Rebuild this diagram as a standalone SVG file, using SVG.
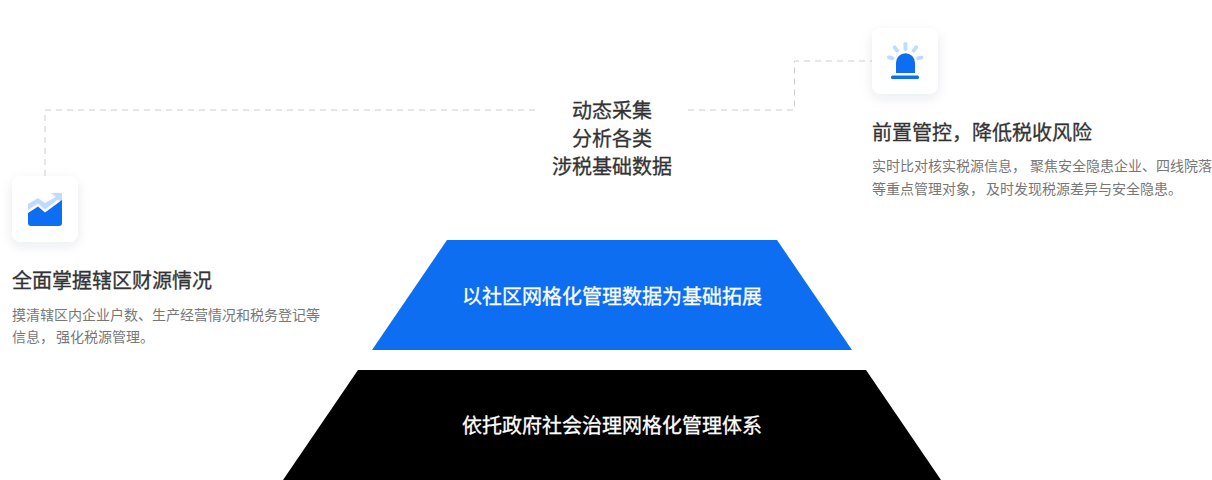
<svg xmlns="http://www.w3.org/2000/svg" width="1212" height="480" viewBox="0 0 1212 480">
<defs>
<filter id="sh" x="-50%" y="-50%" width="200%" height="200%"><feDropShadow dx="0" dy="4" stdDeviation="6" flood-color="#0f2a55" flood-opacity="0.09"/></filter>
</defs>
<style>
text{font-family:"Noto Sans CJK SC","Liberation Sans",sans-serif}
.conn{fill:none;stroke:#ccced1;stroke-width:1;stroke-dasharray:6 5}
.card{fill:#fff;filter:url(#sh)}
.head{font-size:20px;fill:#333;stroke:#333;stroke-width:.3}
.body{font-size:14px;fill:#777}
.mid{font-size:20px;fill:#333;stroke:#333;stroke-width:.3;text-anchor:middle}
.band{font-size:20px;fill:#fff;stroke:#fff;stroke-width:.3;text-anchor:middle}
.blue{fill:#0d6ef1}.light{fill:#bfdbff}
</style>
<rect width="1212" height="480" fill="#fff"/>
<g id="connectors">
<path class="conn" d="M45 176V110H535"/>
<path class="conn" d="M688 110H794.500V61H872"/>
</g>
<g id="center-label">
<text class="mid" x="612" y="118">动态采集</text>
<text class="mid" x="612" y="146">分析各类</text>
<text class="mid" x="612" y="174">涉税基础数据</text>
</g>
<g id="node-alert">
<rect class="card" x="872" y="28" width="66" height="66" rx="9"/>
<path class="blue" d="M896 73V62.700a9.500 9.500 0 0 1 19 0V73Z"/>
<rect class="blue" x="891" y="75.500" width="28" height="3.500" rx="1.500"/>
<g class="light">
<rect x="903.500" y="42" width="3.800" height="9" rx="1.800"/>
<rect x="894" y="45" width="3.800" height="8" rx="1.800" transform="rotate(-38 896 49)"/>
<rect x="913" y="45" width="3.800" height="8" rx="1.800" transform="rotate(38 915 49)"/>
<rect x="887" y="56" width="7.500" height="3.800" rx="1.800" transform="rotate(14 891 58)"/>
<rect x="916" y="56" width="7.500" height="3.800" rx="1.800" transform="rotate(-14 920 58)"/>
</g>
<text class="head" x="872" y="140">前置管控，降低税收风险</text>
<text class="body" x="872" y="171">实时比对核实税源信息，<tspan dx="4">聚焦安全隐患企业、四线院落</tspan></text>
<text class="body" x="872" y="194">等重点管理对象，<tspan dx="2">及时发现税源差异与安全隐患。</tspan></text>
</g>
<g id="node-chart">
<rect class="card" x="12" y="176" width="66" height="66" rx="9"/>
<path class="light" d="M28 204L38 198L45 203L56 197L51 193H62V203L58 199.500L45 209.500L38 203.500L28 210Z"/>
<path class="blue" d="M28 213L38 206.500L45 212.500L62 200V223a3 3 0 0 1-3 3H31a3 3 0 0 1-3-3Z"/>
<text class="head" x="12" y="288">全面掌握辖区财源情况</text>
<text class="body" x="12" y="320">摸清辖区内企业户数、生产经营情况和税务登记等</text>
<text class="body" x="12" y="342">信息，<tspan dx="2">强化税源管理。</tspan></text>
</g>
<g id="tier-top">
<path d="M447 240H777L852 350H372Z" fill="#0d6ef1"/>
<text class="band" x="612" y="304">以社区网格化管理数据为基础拓展</text>
</g>
<g id="tier-bottom">
<path d="M358 370H866L941 480H283Z" fill="#000"/>
<text class="band" x="612" y="433">依托政府社会治理网格化管理体系</text>
</g>
</svg>
